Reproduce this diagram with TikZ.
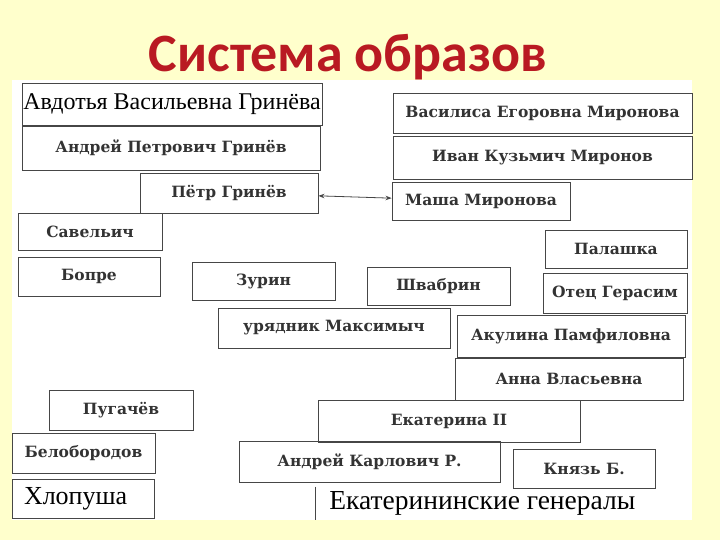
\documentclass[tikz,border=0pt]{standalone}
\usepackage{fontspec}
\setmainfont{DejaVu Serif}
\newfontfamily\timesfont{Liberation Serif}
\newfontfamily\titlefont{Carlito}
\usetikzlibrary{arrows.meta}
\definecolor{slideYellow}{RGB}{255,255,204}
\definecolor{titleRed}{RGB}{185,26,34}
\definecolor{scanLine}{RGB}{70,70,70}

\begin{document}
\begin{tikzpicture}[x=1pt, y=-1pt,
    namebox/.style={draw=scanLine, line width=0.8pt, inner sep=0pt, font=\bfseries\fontsize{15.5}{18}\selectfont, text=black!80},
    plainbox/.style={namebox, text=black, font=\timesfont\fontsize{24}{26}\selectfont},
    link/.style={{Stealth[length=6pt]}-{Stealth[length=6pt]}, line width=0.8pt, draw=scanLine}
]
    \fill[slideYellow] (0,0) rectangle (720,540);
    \fill[white] (12,80) rectangle (692,520);
    \node[anchor=base, text=titleRed, font=\titlefont\bfseries\fontsize{54}{60}\selectfont] (title) at (348,72) {Система образов};

    \node[plainbox, minimum width=300pt, minimum height=42pt] (avdotya) at (172,104) {Авдотья Васильевна Гринёва};
    \node[namebox, minimum width=298pt, minimum height=44pt] (andrej) at (171,148) {Андрей Петрович Гринёв};
    \node[namebox, minimum width=178pt, minimum height=40pt] (petr) at (229,193) {Пётр Гринёв};
    \node[namebox, minimum width=144pt, minimum height=37pt] (savelich) at (90,231.5) {Савельич};
    \node[namebox, minimum width=142pt, minimum height=39pt] (bopre) at (89,276.5) {Бопре};
    \node[namebox, minimum width=143pt, minimum height=38pt] (zurin) at (263.5,281) {Зурин};
    \node[namebox, minimum width=232pt, minimum height=40pt] (urjadnik) at (334,328) {урядник Максимыч};
    \node[namebox, minimum width=143pt, minimum height=38pt] (shvabrin) at (438.5,286) {Швабрин};
    \node[namebox, minimum width=299pt, minimum height=40pt] (vasilisa) at (542.5,113) {Василиса Егоровна Миронова};
    \node[namebox, minimum width=299pt, minimum height=43pt] (ivan) at (542.5,158) {Иван Кузьмич Миронов};
    \node[namebox, minimum width=178pt, minimum height=38pt] (masha) at (481,201) {Маша Миронова};
    \node[namebox, minimum width=142pt, minimum height=38pt] (palashka) at (616,249) {Палашка};
    \node[namebox, minimum width=144pt, minimum height=40pt] (gerasim) at (615,293) {Отец Герасим};
    \node[namebox, minimum width=228pt, minimum height=42pt] (akulina) at (571,336) {Акулина Памфиловна};
    \node[namebox, minimum width=228pt, minimum height=42pt] (anna) at (569,379) {Анна Власьевна};
    \node[namebox, minimum width=262pt, minimum height=42pt] (ekaterina) at (449,421) {Екатерина II};
    \node[namebox, minimum width=261pt, minimum height=41pt] (karlovich) at (369.5,461.5) {Андрей Карлович Р.};
    \node[namebox, minimum width=142pt, minimum height=39pt] (knjaz) at (584,468.5) {Князь Б.};
    \node[namebox, minimum width=144pt, minimum height=40pt] (pugachev) at (121,410) {Пугачёв};
    \node[namebox, minimum width=143pt, minimum height=40pt] (beloborodov) at (83.5,453) {Белобородов};
    \node[plainbox, minimum width=142pt, minimum height=39pt, font=\timesfont\fontsize{26}{28}\selectfont, align=left, text width=118pt] (khlopusha) at (83,498.5) {Хлопуша};
    \node[plainbox, draw=none, anchor=west, minimum height=33pt, font=\timesfont\fontsize{27.5}{30}\selectfont] (generaly) at (315,503.5) {\hspace{14pt}Екатерининские генералы};

    \draw[scanLine, line width=0.8pt] (generaly.north west) -- (generaly.south west);
    \draw[link] (petr) -- (masha);
\end{tikzpicture}
\end{document}
